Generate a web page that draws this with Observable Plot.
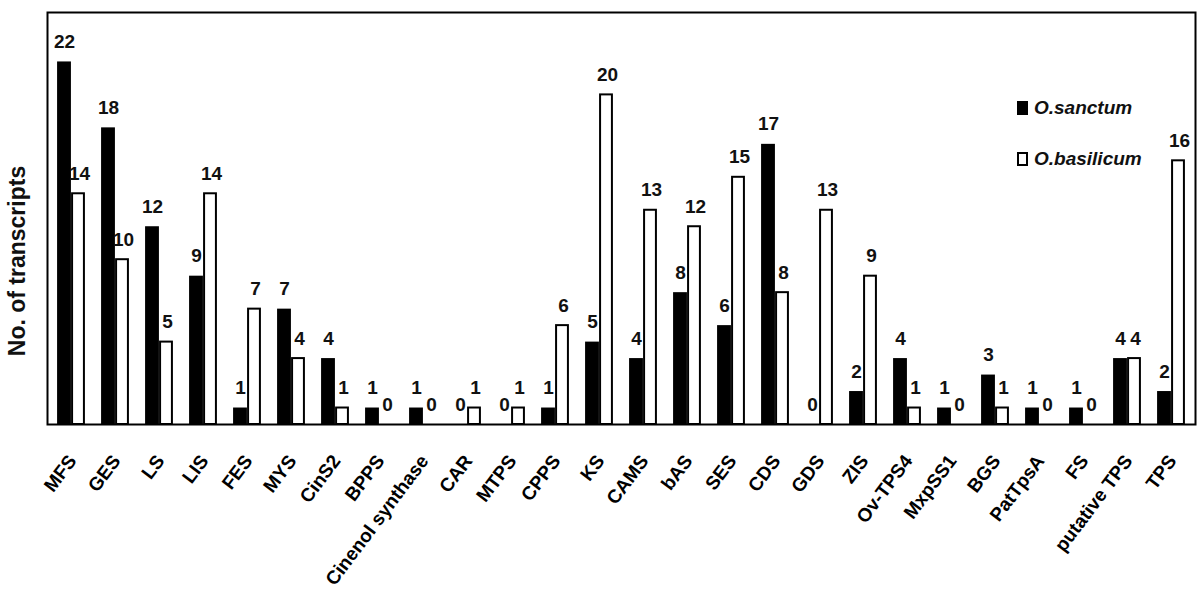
<!DOCTYPE html>
<html>
<head>
<meta charset="utf-8">
<script src="https://cdn.jsdelivr.net/npm/d3@7"></script>
<script src="https://cdn.jsdelivr.net/npm/@observablehq/plot@0.6"></script>
<style>
  html, body { margin: 0; padding: 0; background: #fff; }
  #wrap { position: relative; width: 1200px; height: 599px; }
  .legend { position: absolute; left: 1017px; height: 20px; font-family: "Liberation Sans", Arial, sans-serif; font-style: italic; font-weight: bold; font-size: 19px; line-height: 20px; color: #111; display: flex; align-items: center; }
  .sw { width: 11px; height: 14px; box-sizing: border-box; border: 2px solid #000; margin-right: 6px; }
</style>
</head>
<body>
<div id="wrap"></div>
<script>
const categories = ["MFS","GES","LS","LIS","FES","MYS","CinS2","BPPS","Cinenol synthase","CAR","MTPS","CPPS","KS","CAMS","bAS","SES","CDS","GDS","ZIS","Ov-TPS4","MxpSS1","BGS","PatTpsA","FS","putative TPS","TPS"];
const sanctum   = [22,18,12,9,1,7,4,1,1,0,0,1,5,4,8,6,17,0,2,4,1,3,1,1,4,2];
const basilicum = [14,10,5,14,7,4,1,0,0,1,1,6,20,13,12,15,8,13,9,1,0,1,0,0,4,16];
const seriesNames = ["O.sanctum","O.basilicum"];

const W = 1200, H = 599, mL = 47, mR = 5, mT = 12, mB = 175;
const S = (W - mL - mR) / categories.length;
const bw = 14;

const rows = categories.flatMap((c, i) => [
  {cat: c, series: seriesNames[0], v: sanctum[i]},
  {cat: c, series: seriesNames[1], v: basilicum[i]}
]);
const black = rows.filter(d => d.series === seriesNames[0]);
const white = rows.filter(d => d.series === seriesNames[1]);

const labelFont = {fontSize: 19, fontWeight: "bold", fontFamily: "'Liberation Sans', Arial, sans-serif", fill: "#111", lineAnchor: "bottom", dy: -14};

const chart = Plot.plot({
  width: W, height: H,
  marginLeft: mL, marginRight: mR, marginTop: mT, marginBottom: mB,
  style: {fontFamily: "'Liberation Sans', Arial, sans-serif", color: "#000", background: "#fff"},
  x: {domain: categories, padding: 0, label: null},
  y: {domain: [0, 25], axis: null},
  marks: [
    Plot.barY(black.filter(d => d.v > 0), {x: "cat", y: "v", fill: "#000", insetLeft: S/2 - bw, insetRight: S/2}),
    Plot.barY(white.filter(d => d.v > 0), {x: "cat", y: "v", fill: "#fff", stroke: "#000", strokeWidth: 2, insetLeft: S/2 + 1, insetRight: S/2 - bw + 1}),
    Plot.text(black, {x: "cat", y: "v", text: d => String(d.v), dx: -bw/2, ...labelFont}),
    Plot.text(white, {x: "cat", y: "v", text: d => String(d.v), dx: bw/2 + 1, ...labelFont}),
    Plot.axisX({tickSize: 0, tickPadding: 33, tickRotate: -53, fontSize: 19, fontWeight: "bold", label: null, dx: 1}),
    Plot.frame({stroke: "#000", strokeWidth: 2})
  ]
});

const wrap = document.getElementById("wrap");
wrap.appendChild(chart);

// y-axis title
const svg = d3.select(chart);
svg.append("text")
  .attr("transform", `translate(25, 261) rotate(-90)`)
  .attr("text-anchor", "middle")
  .attr("font-family", "'Liberation Sans', Arial, sans-serif")
  .attr("font-weight", "bold")
  .attr("font-size", 23)
  .attr("fill", "#111")
  .text("No. of transcripts");

// legend
const legTops = [98, 149];
seriesNames.forEach((name, i) => {
  const d = document.createElement("div");
  d.className = "legend";
  d.style.top = legTops[i] + "px";
  const sw = document.createElement("span");
  sw.className = "sw";
  sw.style.background = i === 0 ? "#000" : "#fff";
  d.appendChild(sw);
  d.appendChild(document.createTextNode(name));
  wrap.appendChild(d);
});
</script>
</body>
</html>
